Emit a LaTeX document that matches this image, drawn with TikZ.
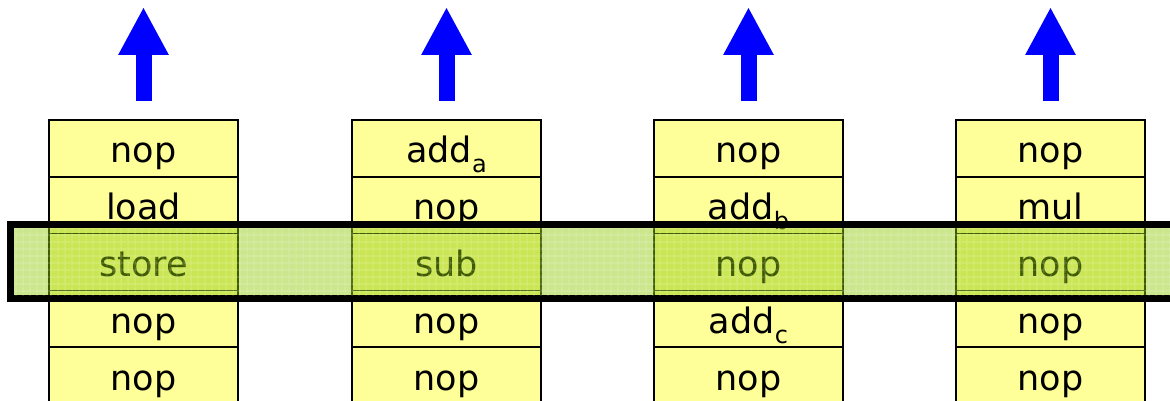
\documentclass[tikz,border=0pt]{standalone}
\usepackage{fontspec}
\setmainfont{DejaVu Sans}
\usetikzlibrary{arrows.meta, positioning, patterns.meta}
\definecolor{slotyellow}{RGB}{255,255,153}
\definecolor{bandgreen}{RGB}{140,200,0}
% operand tag under the opcode
\newcommand{\optag}[1]{\raisebox{-10pt}{\fontsize{24}{24}\selectfont #1}}

\begin{document}
\begin{tikzpicture}[x=1pt, y=-1pt,
    cell/.style={draw, fill=slotyellow, line width=1.6pt, minimum width=189pt,
      minimum height=56.8pt, inner sep=0pt, outer sep=0pt,
      text height=36pt, text depth=7pt,
      font=\fontsize{35}{35}\selectfont},
    issue/.style={draw=blue, line width=16pt,
      -{Triangle[width=47pt, length=48pt]}},
    band/.style={draw, line width=7pt, fill=bandgreen, fill opacity=0.45}]
  \useasboundingbox (0,0) rectangle (1170,401);

  % instruction slots, one column per unit
  \foreach \u/\x/\ops in {1/143.5/{nop,load,store,nop,nop},
                          2/446.5/{add\optag{a},nop,sub,nop,nop},
                          3/748.5/{nop,add\optag{b},nop,add\optag{c},nop},
                          4/1050.5/{nop,mul,nop,nop,nop}} {
    \foreach \op [count=\r] in \ops
      \node[cell] (u\u-\r) at (\x, 120+56.8*\r-28.4) {\op};
    % result leaves the unit
    \coordinate (out\u) at (\x, 7);
    \draw[issue] ([yshift=19pt]u\u-1.north) -- (out\u);
  }

  % the cycle that is being issued
  \node[band, minimum width=1200pt, minimum height=74pt, anchor=west]
    (cycle) at (7, 261.5) {};
  \fill[pattern={Lines[distance=6.5pt, angle=0, line width=0.8pt]},
    pattern color=white, opacity=0.35]
    (14,228) rectangle (1170,295);
  \fill[pattern={Lines[distance=6.5pt, angle=90, line width=0.8pt]},
    pattern color=white, opacity=0.35]
    (14,228) rectangle (1170,295);
\end{tikzpicture}
\end{document}
